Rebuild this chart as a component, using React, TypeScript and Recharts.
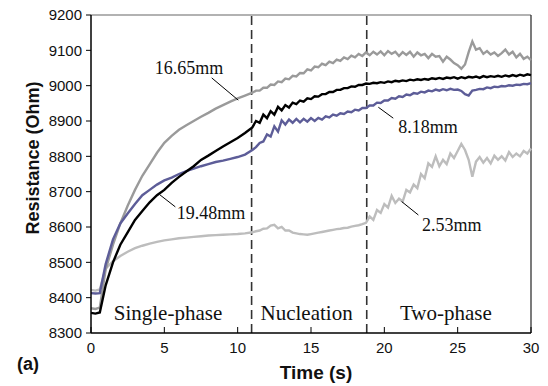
import { LineChart, Line, XAxis, YAxis, ReferenceLine, ReferenceDot } from 'recharts'

const time = [
    0, 0.3, 0.6, 1, 1.5, 2, 2.5, 3, 3.5, 4, 4.5, 5, 5.5, 6, 6.5, 7, 7.5, 8, 8.5, 9, 9.5, 10, 10.5,
    11, 11.25, 11.5, 11.75, 12, 12.25, 12.5, 12.75, 13, 13.25, 13.5, 13.75, 14, 14.25, 14.5, 14.75,
    15, 15.25, 15.5, 15.75, 16, 16.25, 16.5, 16.75, 17, 17.25, 17.5, 17.75, 18, 18.25, 18.5, 18.75,
    19, 19.25, 19.5, 19.75, 20, 20.25, 20.5, 20.75, 21, 21.25, 21.5, 21.75, 22, 22.25, 22.5, 22.75,
    23, 23.25, 23.5, 23.75, 24, 24.25, 24.5, 24.75, 25, 25.25, 25.5, 25.75, 26, 26.25, 26.5, 26.75,
    27, 27.25, 27.5, 27.75, 28, 28.25, 28.5, 28.75, 29, 29.25, 29.5, 29.75, 30,
]

// 16.65mm
const r1665 = [
    8370, 8368, 8372, 8480, 8550, 8610, 8660, 8705, 8745, 8777, 8810, 8838, 8858, 8875, 8888, 8900, 8912, 8923, 8935, 8945, 8955, 8964, 8972,
    8980, 8986, 8986, 8994, 8994, 9003, 9002, 9012, 9010, 9020, 9018, 9028, 9026, 9036, 9035, 9046,
    9043, 9054, 9052, 9062, 9058, 9068, 9064, 9074, 9070, 9080, 9075, 9085, 9080, 9090, 9084, 9094,
    9086, 9096, 9088, 9097, 9086, 9098, 9090, 9096, 9084, 9095, 9087, 9096, 9082, 9094, 9086, 9090,
    9078, 9090, 9082, 9084, 9068, 9082, 9074, 9064, 9058, 9048, 9060, 9095, 9125, 9102, 9106, 9090,
    9098, 9088, 9094, 9084, 9092, 9102, 9088, 9096, 9080, 9090, 9076, 9082, 9072,
]
// 19.48mm
const r1948 = [
    8357, 8355, 8358, 8435, 8500, 8550, 8585, 8620, 8645, 8670, 8690, 8705, 8725, 8742, 8757, 8772, 8790, 8802, 8815, 8828, 8840, 8852, 8866,
    8882, 8900, 8895, 8918, 8908, 8928, 8918, 8940, 8930, 8945, 8938, 8952, 8948, 8958, 8955, 8964,
    8962, 8970, 8969, 8976, 8976, 8982, 8982, 8988, 8988, 8993, 8993, 8998, 8997, 9002, 9002, 9006,
    9005, 9008, 9007, 9010, 9008, 9012, 9010, 9014, 9012, 9015, 9013, 9017, 9015, 9018, 9016, 9019,
    9017, 9021, 9019, 9022, 9019, 9023, 9021, 9024, 9020, 9024, 9021, 9025, 9023, 9026, 9022, 9027,
    9024, 9027, 9025, 9028, 9025, 9029, 9026, 9030, 9027, 9031, 9028, 9032, 9030,
]
// 8.18mm
const r818 = [
    8413, 8412, 8413, 8495, 8565, 8610, 8638, 8665, 8690, 8705, 8720, 8732, 8740, 8750, 8758, 8765, 8772, 8778, 8784, 8788, 8793, 8798, 8805,
    8818, 8826, 8838, 8842, 8862, 8856, 8885, 8870, 8902, 8890, 8904, 8895, 8906, 8896, 8906, 8898,
    8908, 8900, 8909, 8904, 8913, 8910, 8918, 8915, 8922, 8920, 8927, 8925, 8932, 8930, 8937, 8937,
    8944, 8944, 8952, 8951, 8958, 8958, 8965, 8963, 8970, 8968, 8975, 8973, 8979, 8977, 8983, 8981,
    8986, 8984, 8989, 8986, 8990, 8987, 8991, 8988, 8989, 8985, 8976, 8972, 8986, 8988, 8991, 8990,
    8995, 8993, 8997, 8996, 8999, 8998, 9001, 9000, 9003, 9002, 9005, 9004, 9007,
]
// 2.53mm
const r253 = [
    8422, 8420, 8423, 8482, 8503, 8518, 8530, 8540, 8547, 8553, 8558, 8562, 8565, 8568, 8570, 8572, 8574, 8576, 8577, 8578, 8579, 8580, 8582,
    8585, 8588, 8590, 8595, 8596, 8604, 8606, 8596, 8600, 8590, 8590, 8584, 8582, 8580, 8579, 8578,
    8580, 8582, 8584, 8586, 8588, 8590, 8592, 8594, 8595, 8597, 8598, 8601, 8603, 8605, 8608, 8612,
    8630, 8620, 8648, 8640, 8665, 8655, 8688, 8668, 8680, 8672, 8705, 8698, 8720, 8710, 8750, 8738,
    8780, 8770, 8800, 8772, 8790, 8778, 8808, 8795, 8815, 8835, 8818, 8790, 8742, 8785, 8798, 8782,
    8795, 8780, 8802, 8790, 8800, 8788, 8812, 8798, 8808, 8800, 8815, 8808, 8822,
]

const xTicks = [0, 5, 10, 15, 20, 25, 30]
const yTicks = [8300, 8400, 8500, 8600, 8700, 8800, 8900, 9000, 9100, 9200]
const phaseBounds = [10.95, 18.8]

const data = time.map((t, i) => ({ t, a: r1665[i], b: r1948[i], c: r818[i], d: r253[i] }))

const SANS = 'Liberation Sans, Arial, sans-serif'
const SERIF = 'Liberation Serif, Times New Roman, serif'

function XTick({ x, y, payload }: any) {
    return (
        <g>
            <line x1={x} y1={y} x2={x} y2={y - 6} stroke="#000" strokeWidth={1} />
            <text x={x} y={y + 20} textAnchor="middle" fontSize={15} fontFamily={SANS} fill="#111">
                {payload.value}
            </text>
        </g>
    )
}

const callout = (value: string, size: number) => ({ value, position: 'center' as const, fontSize: size, fontFamily: SERIF, fill: '#111' })

export default function App() {
    return (
        <div style={{ position: 'absolute', left: 0, top: 0, width: 548, height: 386, background: '#fff' }}>
            <LineChart width={548} height={386} data={data} margin={{ top: 15, right: 17, left: 0, bottom: 0 }}>
                <XAxis
                    type="number"
                    dataKey="t"
                    domain={[0, 30]}
                    ticks={xTicks}
                    height={53}
                    tickLine={false}
                    tickSize={0}
                    tickMargin={0}
                    tick={<XTick />}
                    axisLine={{ stroke: '#000', strokeWidth: 1.5 }}
                />
                <YAxis
                    type="number"
                    domain={[8300, 9200]}
                    ticks={yTicks}
                    width={91}
                    tickSize={5}
                    tickMargin={4}
                    tickLine={{ stroke: '#000' }}
                    axisLine={{ stroke: '#000', strokeWidth: 1.5 }}
                    tick={{ fontSize: 15, fontFamily: SANS, fill: '#111' }}
                />
                <ReferenceLine y={9200} stroke="#666" strokeWidth={1.2} />
                <ReferenceLine x={30} stroke="#222" strokeWidth={1.2} />
                {phaseBounds.map((b) => (
                    <ReferenceLine key={b} x={b} stroke="#333" strokeWidth={1.6} strokeDasharray="9 5" />
                ))}

                <Line type="linear" dataKey="d" stroke="#bdbdbd" strokeWidth={2.4} dot={false} isAnimationActive={false} />
                <Line type="linear" dataKey="a" stroke="#9a9a9a" strokeWidth={2.4} dot={false} isAnimationActive={false} />
                <Line type="linear" dataKey="c" stroke="#5d5d98" strokeWidth={2.4} dot={false} isAnimationActive={false} />
                <Line type="linear" dataKey="b" stroke="#000" strokeWidth={2.4} dot={false} isAnimationActive={false} />

                {/* callout pointers */}
                <ReferenceLine segment={[{ x: 8.23, y: 9022 }, { x: 10.04, y: 8959 }]} stroke="#000" strokeWidth={1} />
                <ReferenceLine segment={[{ x: 4.7, y: 8691 }, { x: 5.75, y: 8657 }]} stroke="#000" strokeWidth={1} />
                <ReferenceLine segment={[{ x: 19.59, y: 8939 }, { x: 20.61, y: 8908 }]} stroke="#000" strokeWidth={1} />
                <ReferenceLine segment={[{ x: 21.18, y: 8672 }, { x: 22.32, y: 8634 }]} stroke="#000" strokeWidth={1} />

                <ReferenceDot x={6.68} y={9050} r={0} fill="none" stroke="none" label={callout('16.65mm', 18)} />
                <ReferenceDot x={8.18} y={8640} r={0} fill="none" stroke="none" label={callout('19.48mm', 18)} />
                <ReferenceDot x={22.98} y={8883} r={0} fill="none" stroke="none" label={callout('8.18mm', 18)} />
                <ReferenceDot x={24.6} y={8606} r={0} fill="none" stroke="none" label={callout('2.53mm', 18)} />

                <ReferenceDot x={5.25} y={8357} r={0} fill="none" stroke="none" label={callout('Single-phase', 21)} />
                <ReferenceDot x={14.7} y={8357} r={0} fill="none" stroke="none" label={callout('Nucleation', 21)} />
                <ReferenceDot x={24.2} y={8357} r={0} fill="none" stroke="none" label={callout('Two-phase', 21)} />
            </LineChart>

            <svg width={548} height={386} style={{ position: 'absolute', left: 0, top: 0, pointerEvents: 'none' }}>
                <text x={33} y={158} transform="rotate(-90 33 158)" textAnchor="middle" dominantBaseline="central" fontSize={18} fontWeight="bold" fontFamily={SANS} fill="#111">
                    Resistance (Ohm)
                </text>
                <text x={316} y={372} textAnchor="middle" dominantBaseline="central" fontSize={19} fontWeight="bold" fontFamily={SANS} fill="#111">
                    Time (s)
                </text>
                <text x={28} y={364} textAnchor="middle" dominantBaseline="central" fontSize={18} fontWeight="bold" fontFamily={SANS} fill="#111">
                    (a)
                </text>
            </svg>
        </div>
    )
}
